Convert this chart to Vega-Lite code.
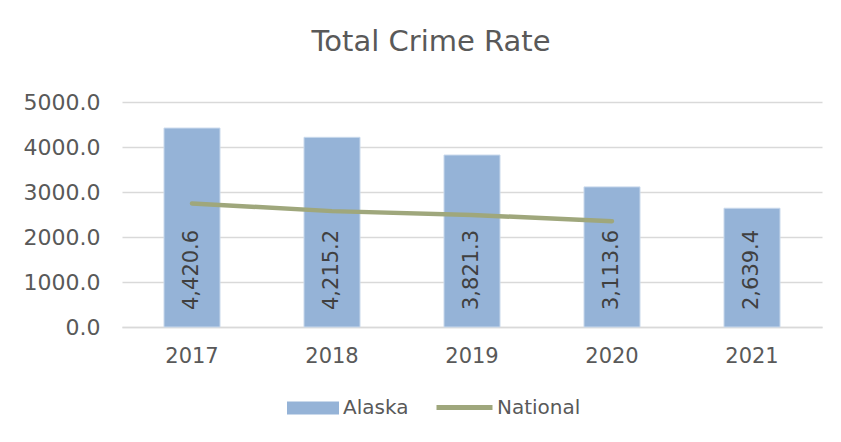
{
  "$schema": "https://vega.github.io/schema/vega-lite/v6.json",
  "width": 700,
  "height": 225,
  "autosize": {"type": "none"},
  "padding": {"left": 122, "top": 102, "right": 19, "bottom": 115},
  "background": "#FFFFFF",
  "title": {
    "text": "Total Crime Rate",
    "font": "DejaVu Sans",
    "fontSize": 29,
    "fontWeight": "normal",
    "color": "#595959",
    "anchor": "middle",
    "frame": "group",
    "dx": -41,
    "offset": 34
  },
  "data": {
    "values": [
      {"year": "2017", "series": "Alaska", "value": 4420.6},
      {"year": "2018", "series": "Alaska", "value": 4215.2},
      {"year": "2019", "series": "Alaska", "value": 3821.3},
      {"year": "2020", "series": "Alaska", "value": 3113.6},
      {"year": "2021", "series": "Alaska", "value": 2639.4},
      {"year": "2017", "series": "National", "value": 2745},
      {"year": "2018", "series": "National", "value": 2575},
      {"year": "2019", "series": "National", "value": 2489},
      {"year": "2020", "series": "National", "value": 2350}
    ]
  },
  "encoding": {
    "x": {
      "field": "year",
      "type": "ordinal",
      "scale": {"paddingInner": 0.6, "paddingOuter": 0.3},
      "axis": {
        "title": null,
        "labelAngle": 0,
        "labelFont": "DejaVu Sans",
        "labelFontSize": 21,
        "labelColor": "#595959",
        "labelPadding": 18,
        "ticks": false,
        "domainColor": "#D9D9D9",
        "domainWidth": 1.5
      }
    }
  },
  "layer": [
    {
      "transform": [{"filter": "datum.series === 'Alaska'"}],
      "mark": {"type": "bar", "stroke": "#C9D9EC", "strokeWidth": 1},
      "encoding": {
        "y": {
          "field": "value",
          "type": "quantitative",
          "scale": {"domain": [0, 5000]},
          "axis": {
            "title": null,
            "format": ".1f",
            "values": [0, 1000, 2000, 3000, 4000, 5000],
            "labelOverlap": false,
            "labelFont": "DejaVu Sans",
            "labelFontSize": 22,
            "labelColor": "#595959",
            "labelPadding": 22,
            "ticks": false,
            "domain": false,
            "gridColor": "#D9D9D9",
            "gridWidth": 1.5
          }
        },
        "fill": {
          "field": "series",
          "type": "nominal",
          "scale": {"domain": ["Alaska"], "range": ["#95B3D7"]},
          "legend": {
            "title": null,
            "orient": "none",
            "legendX": 165,
            "legendY": 280,
            "symbolType": "M-1,-0.25H1V0.25H-1Z",
            "symbolSize": 2704,
            "symbolStrokeWidth": 0,
            "labelFont": "DejaVu Sans",
            "labelFontSize": 20,
            "labelColor": "#595959",
            "labelOffset": 4
          }
        }
      }
    },
    {
      "transform": [{"filter": "datum.series === 'Alaska'"}],
      "mark": {
        "type": "text",
        "angle": -90,
        "align": "left",
        "baseline": "middle",
        "dx": 17,
        "font": "DejaVu Sans",
        "fontSize": 21,
        "color": "#404040"
      },
      "encoding": {
        "y": {"datum": 0, "type": "quantitative"},
        "text": {"field": "value", "type": "quantitative", "format": ",.1f"}
      }
    },
    {
      "transform": [{"filter": "datum.series === 'National'"}],
      "mark": {"type": "line", "strokeWidth": 4.5, "strokeCap": "round"},
      "encoding": {
        "y": {"field": "value", "type": "quantitative"},
        "stroke": {
          "field": "series",
          "type": "nominal",
          "scale": {"domain": ["National"], "range": ["#9FA77C"]},
          "legend": {
            "title": null,
            "orient": "none",
            "legendX": 312,
            "legendY": 275,
            "symbolType": "stroke",
            "symbolSize": 3136,
            "symbolStrokeWidth": 5,
            "labelFont": "DejaVu Sans",
            "labelFontSize": 20,
            "labelColor": "#595959",
            "labelOffset": 2
          }
        }
      }
    }
  ],
  "config": {
    "view": {"stroke": null}
  }
}
